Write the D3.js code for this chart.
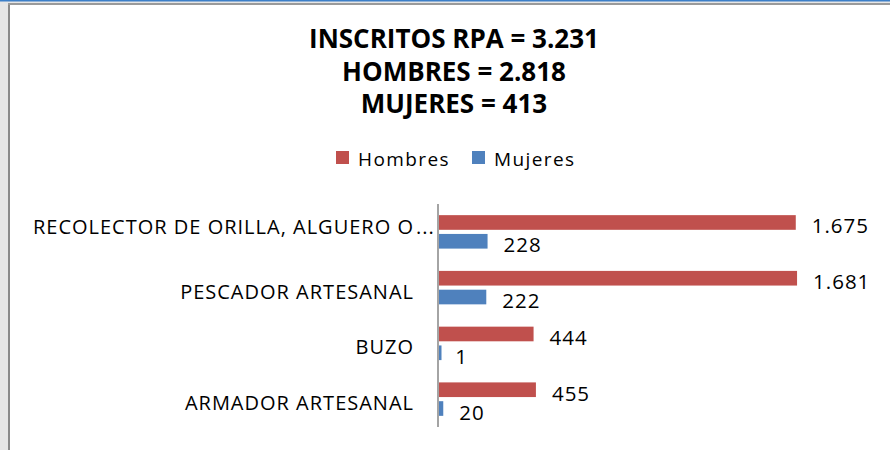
<!DOCTYPE html>
<html>
<head>
<meta charset="utf-8">
<script src="https://cdn.jsdelivr.net/npm/d3@7"></script>
<style>
  body { margin: 0; background: #fff; }
  text { font-family: "Open Sans", sans-serif; fill: #000; }
</style>
</head>
<body>
<div class="bar-chart"></div>
<script>
const categories = [
  "RECOLECTOR DE ORILLA, ALGUERO O BUZO APNEA",
  "PESCADOR ARTESANAL",
  "BUZO",
  "ARMADOR ARTESANAL"
];
const seriesNames = ["Hombres", "Mujeres"];
const hombres = [1675, 1681, 444, 455];
const mujeres = [228, 222, 1, 20];
const titleLines = ["INSCRITOS RPA = 3.231", "HOMBRES = 2.818", "MUJERES = 413"];

const colors = ["#C0504D", "#4F81BD"];
const fmt = d3.formatLocale({ decimal: ",", thousands: ".", grouping: [3], currency: ["$", ""] }).format(",d");

const width = 890, height = 450;

const svg = d3.select(".bar-chart")
  .append("svg")
  .attr("width", width)
  .attr("height", height);

const rows = categories.map((c, i) => ({ cat: c, values: [hombres[i], mujeres[i]] }));

// window frame around the chart
const addFrame = () => {
  svg.append("rect").attr("x", 0).attr("y", 0).attr("width", 8).attr("height", height).attr("fill", "#e6e6e6");
  svg.append("rect").attr("x", 0).attr("y", 0).attr("width", width).attr("height", 4).attr("fill", "#e6e6e6");
  svg.append("rect").attr("x", 0).attr("y", 0).attr("width", width).attr("height", 1.5).attr("fill", "#3c7fc8");
  svg.append("rect").attr("x", 8).attr("y", 3).attr("width", 2).attr("height", height).attr("fill", "#8a8a8a");
  svg.append("rect").attr("x", 8).attr("y", 3).attr("width", width).attr("height", 2).attr("fill", "#9a9a9a");
}

const y = d3.scaleBand()
  .domain(categories)
  .range([204, 427])
  .paddingInner(0.4)
  .paddingOuter(0.2);

const ySeries = d3.scaleBand()
  .domain(seriesNames)
  .range([0, y.bandwidth()])
  .paddingInner(0.22);

const x = d3.scaleLinear()
  .domain([0, 2000])
  .range([439, 865]);

const addTitle = () => {
  svg.append("g")
    .selectAll("text")
    .data(titleLines)
    .enter()
    .append("text")
    .attr("x", 454)
    .attr("y", (d, i) => 48 + i * 32.5)
    .attr("text-anchor", "middle")
    .attr("font-size", 26)
    .attr("font-weight", 700)
    .text(d => d);
}

const addLegend = () => {
  const items = svg.append("g")
    .selectAll("g")
    .data(seriesNames)
    .enter()
    .append("g")
    .attr("transform", (d, i) => "translate(" + (336 + i * 136) + ",151)");
  items.append("rect")
    .attr("width", 13)
    .attr("height", 13)
    .attr("fill", (d, i) => colors[i]);
  items.append("text")
    .attr("x", 22)
    .attr("y", 15)
    .attr("font-size", 19)
    .attr("letter-spacing", 1.4)
    .text(d => d);
}

const addBars = () => {
  const groups = svg.append("g")
    .selectAll("g")
    .data(rows)
    .enter()
    .append("g")
    .attr("transform", d => "translate(0," + y(d.cat) + ")");

  // Excel keeps tiny bars visible, so give them a minimum width
  groups.selectAll("rect")
    .data(d => d.values)
    .enter()
    .append("rect")
    .attr("x", x(0))
    .attr("y", (d, i) => ySeries(seriesNames[i]))
    .attr("width", d => Math.max(x(d) - x(0), 2.5))
    .attr("height", ySeries.bandwidth())
    .attr("fill", (d, i) => colors[i]);

  groups.selectAll("text.value")
    .data(d => d.values)
    .enter()
    .append("text")
    .attr("class", "value")
    .attr("x", d => x(d) + 16)
    .attr("y", (d, i) => ySeries(seriesNames[i]) + ySeries.bandwidth() / 2 + 11)
    .attr("font-size", 20.5)
    .attr("letter-spacing", 1)
    .text(d => fmt(d));
}

// category labels, long ones are cut like Excel does ("...")
const addCategoryAxis = () => {
  const maxChars = 31;
  const labels = svg.append("g")
    .selectAll("g")
    .data(categories)
    .enter()
    .append("g")
    .attr("transform", d => "translate(414," + (y(d) + y.bandwidth() / 2 + (d.length > maxChars ? -5 : 4)) + ")");

  labels.append("text")
    .attr("text-anchor", "end")
    .attr("dy", "0.35em")
    .attr("font-size", 20)
    .attr("letter-spacing", 1)
    .text(d => d.length > maxChars ? d.slice(0, maxChars) : d);

  labels.filter(d => d.length > maxChars)
    .append("text")
    .attr("x", 2)
    .attr("dy", "0.35em")
    .attr("font-size", 20)
    .attr("letter-spacing", 1)
    .text("...");

  svg.append("line")
    .attr("x1", x(0) - 1)
    .attr("x2", x(0) - 1)
    .attr("y1", y.range()[0])
    .attr("y2", y.range()[1])
    .attr("stroke", "#868686")
    .attr("stroke-width", 1.5);
}

addFrame();
addTitle();
addLegend();
addBars();
addCategoryAxis();
</script>
</body>
</html>
